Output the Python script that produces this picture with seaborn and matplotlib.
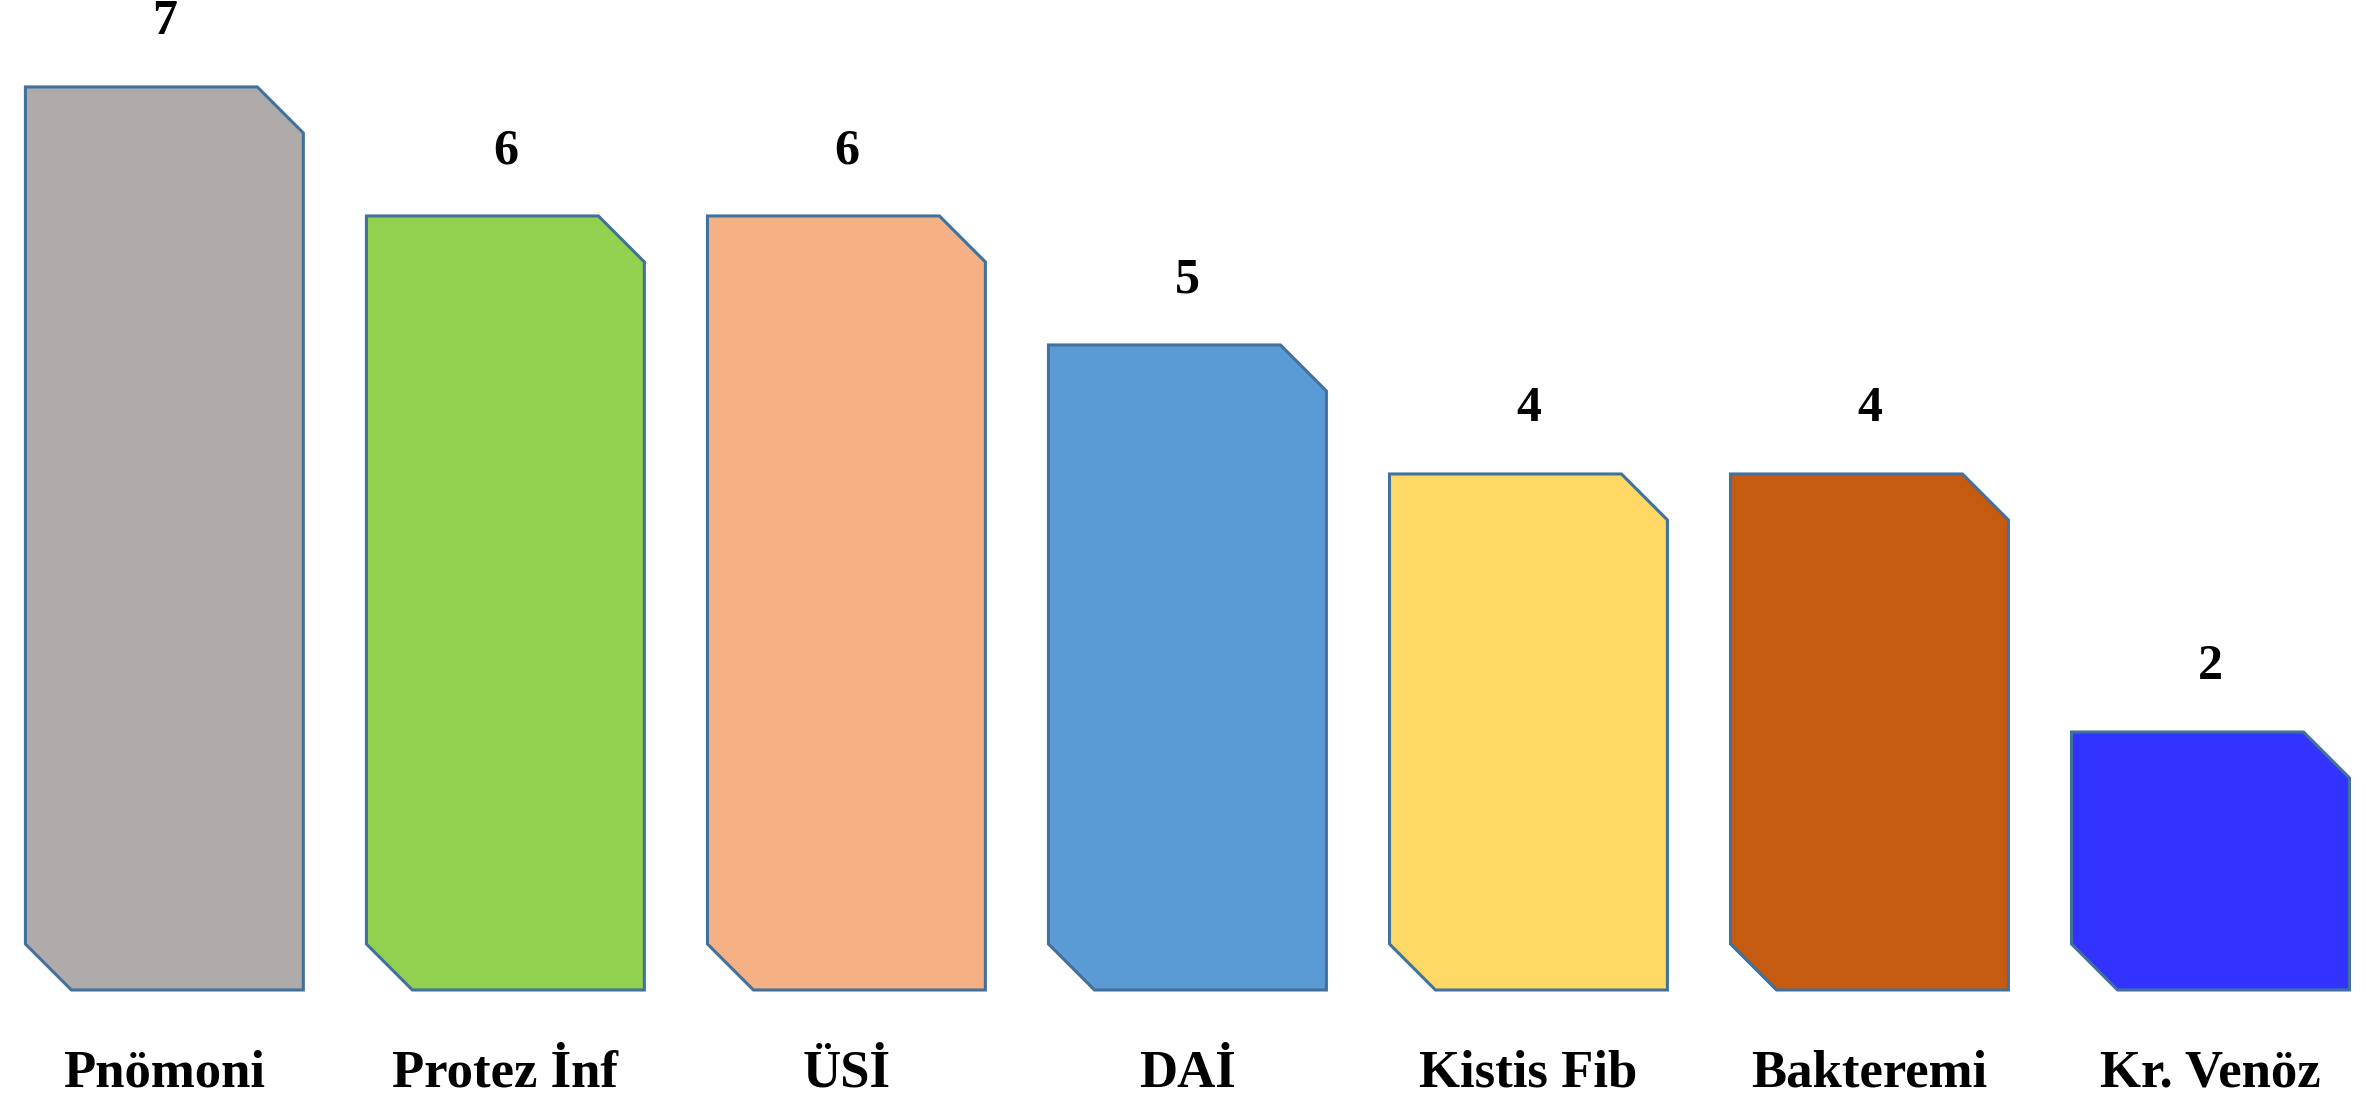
import matplotlib
matplotlib.use("Agg")
import matplotlib.pyplot as plt
from matplotlib.patches import Polygon
import seaborn as sns
import pandas as pd

categories = ["Pnömoni", "Protez İnf", "ÜSİ", "DAİ", "Kistis Fib", "Bakteremi", "Kr. Venöz"]
values = [7, 6, 6, 5, 4, 4, 2]
colors = ["#AFABAB", "#92D050", "#F4B183", "#5B9BD5", "#FFD966", "#C55A11", "#3333FF"]

sns.set_theme(style="white")
plt.rcParams["font.family"] = ["Liberation Serif", "DejaVu Serif"]

df = pd.DataFrame({"cat": categories, "val": values})

fig = plt.figure(figsize=(23.66, 11.03), dpi=100)
ax = fig.add_axes([0, 0, 1, 1])
sns.barplot(data=df, x="cat", y="val", hue="cat", palette=colors, legend=False,
            width=0.815, saturation=1, ax=ax)
ax.set_xlim(-0.482, 6.456)
ax.set_ylim(-0.876, 7.674)
ax.axis("off")

# pixel-to-data conversions for the snipped corners
px_x = ax.transData.transform((1, 0))[0] - ax.transData.transform((0, 0))[0]
px_y = ax.transData.transform((0, 1))[1] - ax.transData.transform((0, 0))[1]
cut_px = 46
cx = cut_px / px_x
cy = cut_px / px_y

bars = list(ax.patches)
for p in bars:
    x0 = p.get_x()
    w = p.get_width()
    y0 = p.get_y()
    h = p.get_height()
    fc = p.get_facecolor()
    p.set_visible(False)
    x1 = x0 + w
    y1 = y0 + h
    verts = [(x0 + cx, y0), (x1, y0), (x1, y1 - cy), (x1 - cx, y1),
             (x0, y1), (x0, y0 + cy)]
    ax.add_patch(Polygon(verts, closed=True, facecolor=fc, edgecolor="#41719C",
                         linewidth=2.2, joinstyle="miter"))

for i, (c, v) in enumerate(zip(categories, values)):
    ax.text(i, v + 0.5, str(v), ha="center", va="center", fontsize=36,
            fontweight="bold", color="black")
    ax.text(i, -0.65, c, ha="center", va="center", fontsize=38,
            fontweight="bold", color="black")

fig.savefig("out.png", dpi=100, facecolor="white")
